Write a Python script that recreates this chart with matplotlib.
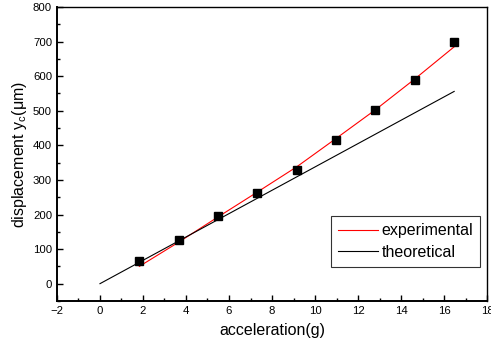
import matplotlib
matplotlib.use('Agg')

import matplotlib.pyplot as plt
from matplotlib.ticker import MultipleLocator

plt.rcParams['font.family'] = ['Liberation Sans', 'DejaVu Sans']

# measured points
accel = [1.83, 3.66, 5.49, 7.32, 9.15, 10.98, 12.81, 14.64, 16.47]
disp = [65, 125, 197, 262, 328, 415, 502, 590, 700]

# fitted curve (experimental)
fit_y = [50, 120, 193, 265, 338, 420, 503, 592, 685]

# theoretical line
theo_x = [0, 16.47]
theo_y = [0, 556]

fig = plt.figure(figsize=(4.91, 3.52), dpi=100)
ax = fig.add_axes([0.116, 0.145, 0.876, 0.835])

ax.plot(accel, fit_y, color='red', lw=0.8, label='experimental')
ax.plot(theo_x, theo_y, color='black', lw=0.8, label='theoretical')
ax.plot(accel, disp, 's', color='black', ms=5.5, zorder=3)

ax.set_xlim(-2, 18)
ax.set_ylim(-50, 800)
ax.xaxis.set_major_locator(MultipleLocator(2))
ax.xaxis.set_minor_locator(MultipleLocator(1))
ax.yaxis.set_major_locator(MultipleLocator(100))
ax.yaxis.set_minor_locator(MultipleLocator(50))
ax.tick_params(which='both', direction='in', top=False, right=False, labelsize=8.2, width=1)
ax.tick_params(which='major', length=4)
ax.tick_params(which='minor', length=2.5)
for s in ax.spines.values():
    s.set_linewidth(1)
ax.spines['bottom'].set_linewidth(1.4)
ax.spines['left'].set_linewidth(1.4)

ax.set_xlabel('acceleration(g)', fontsize=11.5, labelpad=5)
ax.set_ylabel(r'displacement y$_\mathregular{c}$($\mathregular{\mu}$m)', fontsize=11.5, labelpad=3)

lg = ax.legend(loc='upper left', bbox_to_anchor=(331 / 491, 1 - 216 / 352),
               bbox_transform=fig.transFigure, fontsize=11.5, fancybox=False,
               edgecolor='black', handlelength=2.5, handletextpad=0.2, borderpad=0.45,
               labelspacing=0.4, borderaxespad=0)
lg.get_frame().set_linewidth(0.8)

plt.savefig('out.png', dpi=100)
